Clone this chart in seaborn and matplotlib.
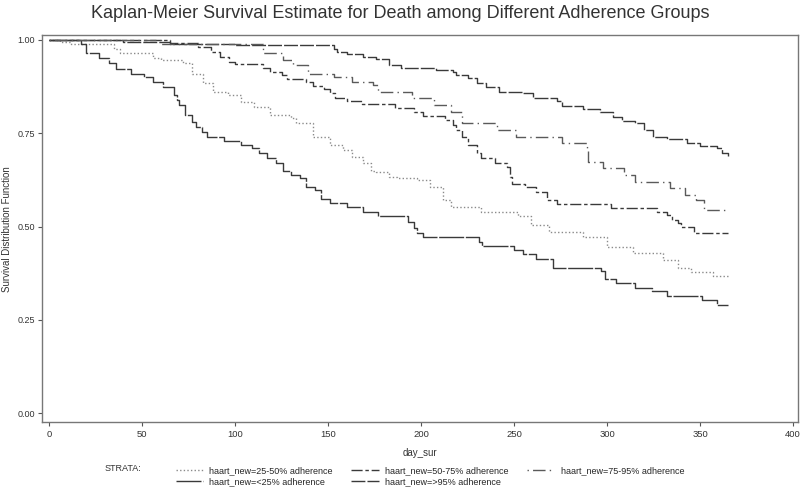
import numpy as np
import pandas as pd
import matplotlib
matplotlib.use("Agg")
import matplotlib.pyplot as plt
import seaborn as sns

# ── data (day, survival) ───────────────────────────────────────────────────
days_lt25 = [0, 17, 20, 27, 32, 36, 44, 51, 56, 61, 67, 69, 70, 73, 77, 79, 82, 85, 94, 103,
             109, 113, 117, 122, 126, 130, 135, 138, 143, 146, 151, 160, 169, 177, 193, 196,
             198, 201, 231, 233, 250, 255, 262, 271, 297, 299, 305, 315, 324, 332, 351, 359, 365]
surv_lt25 = [1.0, 0.99, 0.965, 0.952, 0.938, 0.922, 0.91, 0.90, 0.887, 0.874, 0.852, 0.84, 0.826,
             0.80, 0.78, 0.767, 0.753, 0.74, 0.73, 0.718, 0.71, 0.697, 0.684, 0.67, 0.65, 0.638,
             0.63, 0.606, 0.598, 0.574, 0.563, 0.552, 0.54, 0.528, 0.512, 0.495, 0.483, 0.472,
             0.458, 0.448, 0.437, 0.426, 0.413, 0.39, 0.38, 0.36, 0.348, 0.335, 0.327, 0.314,
             0.303, 0.29, 0.29]

days_25_50 = [0, 6, 12, 35, 38, 56, 60, 72, 77, 83, 88, 96, 103, 110, 119, 130, 133, 142, 151, 158,
              163, 169, 173, 176, 183, 187, 198, 205, 212, 216, 232, 252, 259, 269, 287, 300, 314,
              330, 338, 345, 357, 365]
surv_25_50 = [1.0, 0.995, 0.99, 0.975, 0.965, 0.952, 0.946, 0.938, 0.91, 0.884, 0.86, 0.852, 0.834,
              0.82, 0.80, 0.79, 0.777, 0.74, 0.718, 0.705, 0.687, 0.67, 0.65, 0.646, 0.633, 0.63,
              0.625, 0.606, 0.57, 0.553, 0.54, 0.528, 0.504, 0.486, 0.472, 0.445, 0.429, 0.41,
              0.39, 0.378, 0.367, 0.367]

days_50_75 = [0, 65, 80, 87, 92, 97, 100, 115, 119, 125, 128, 138, 142, 148, 151, 154, 160, 168, 186,
              196, 201, 213, 217, 219, 222, 225, 230, 232, 240, 246, 248, 249, 256, 262, 268, 273,
              302, 327, 332, 335, 338, 340, 347, 365]
surv_50_75 = [1.0, 0.992, 0.98, 0.968, 0.955, 0.94, 0.935, 0.925, 0.914, 0.906, 0.895, 0.887, 0.877,
              0.869, 0.857, 0.844, 0.837, 0.828, 0.818, 0.807, 0.796, 0.786, 0.772, 0.759, 0.74,
              0.718, 0.697, 0.684, 0.67, 0.66, 0.633, 0.614, 0.606, 0.592, 0.571, 0.56, 0.55,
              0.54, 0.53, 0.517, 0.509, 0.499, 0.483, 0.483]

days_75_95 = [0, 60, 115, 126, 131, 139, 153, 163, 174, 177, 195, 207, 216, 222, 241, 251, 276, 289,
              290, 298, 309, 315, 334, 342, 348, 352, 365]
surv_75_95 = [1.0, 0.99, 0.965, 0.946, 0.933, 0.91, 0.90, 0.887, 0.879, 0.86, 0.844, 0.826, 0.807,
              0.777, 0.759, 0.74, 0.724, 0.705, 0.673, 0.657, 0.638, 0.62, 0.603, 0.584, 0.571,
              0.545, 0.545]

days_gt95 = [0, 40, 65, 100, 153, 155, 160, 169, 176, 183, 189, 208, 217, 219, 225, 230, 235, 242,
             255, 260, 273, 276, 287, 296, 303, 308, 315, 320, 325, 332, 343, 350, 359, 362, 365]
surv_gt95 = [1.0, 0.995, 0.99, 0.987, 0.975, 0.968, 0.962, 0.955, 0.949, 0.933, 0.925, 0.92, 0.914,
             0.906, 0.898, 0.885, 0.874, 0.86, 0.857, 0.844, 0.837, 0.823, 0.815, 0.807, 0.794,
             0.783, 0.777, 0.759, 0.74, 0.734, 0.724, 0.716, 0.71, 0.697, 0.69]

labels = ["haart_new=25-50% adherence", "haart_new=<25% adherence",
          "haart_new=50-75% adherence", "haart_new=>95% adherence",
          "haart_new=75-95% adherence"]
series = [(days_25_50, surv_25_50), (days_lt25, surv_lt25), (days_50_75, surv_50_75),
          (days_gt95, surv_gt95), (days_75_95, surv_75_95)]

x_ticks = [0, 50, 100, 150, 200, 250, 300, 350, 400]
y_ticks = [0.0, 0.25, 0.5, 0.75, 1.0]

frames = []
for lab, (d, s) in zip(labels, series):
    frames.append(pd.DataFrame({"day_sur": d, "surv": s, "strata": lab}))
df = pd.concat(frames, ignore_index=True)

# ── styling ───────────────────────────────────────────────────────────────
sns.set_style("white")
plt.rcParams["font.family"] = ["Liberation Sans", "DejaVu Sans"]

STYLE = {
    "haart_new=25-50% adherence": dict(color="#8a8a8a", dashes=(1, 1.6)),
    "haart_new=<25% adherence":   dict(color="#3a3a3a", dashes=(18, 1.2)),
    "haart_new=50-75% adherence": dict(color="#3a3a3a", dashes=(8, 2, 2.5, 2)),
    "haart_new=>95% adherence":   dict(color="#3a3a3a", dashes=(10, 1.5)),
    "haart_new=75-95% adherence": dict(color="#5a5a5a", dashes=(1, 3, 9, 3)),
}

fig = plt.figure(figsize=(8, 4.88), dpi=100, facecolor="white")
ax = fig.add_axes([0.0525, 0.135, 0.945, 0.793])

for lab in labels:
    sub = df[df["strata"] == lab]
    st = STYLE[lab]
    sns.lineplot(data=sub, x="day_sur", y="surv", ax=ax, estimator=None, sort=False,
                 drawstyle="steps-post", color=st["color"], lw=1.0,
                 dashes=False, label=lab)
    ax.lines[-1].set_dashes(st["dashes"])

ax.set_xlim(-3.8, 402.7)
ax.set_ylim(-0.024, 1.013)
ax.set_xticks(x_ticks)
ax.set_xticklabels([str(v) for v in x_ticks], fontsize=6.8, color="#333333")
ax.set_yticks(y_ticks)
ax.set_yticklabels([f"{v:.2f}" for v in y_ticks], fontsize=6.5, color="#333333")
ax.tick_params(axis="both", length=3, width=0.8, color="#555555", pad=2,
               bottom=True, left=True)
ax.tick_params(axis="x", pad=3)
for sp in ax.spines.values():
    sp.set_color("#777777")
    sp.set_linewidth(1.0)

ax.set_xlabel("day_sur", fontsize=7, color="#333333", labelpad=6)
ax.set_ylabel("Survival Distribution Function", fontsize=7, color="#333333", labelpad=4)

fig.suptitle("Kaplan-Meier Survival Estimate for Death among Different Adherence Groups",
             fontsize=13, color="#333333", y=0.99)

leg = ax.legend(loc="upper left", bbox_to_anchor=(0.215, 0.053), bbox_transform=fig.transFigure,
                ncol=3, frameon=False, fontsize=6.5, handlelength=3.0, handletextpad=0.7,
                columnspacing=2.1, labelspacing=0.25, borderaxespad=0)
for h in leg.get_lines():
    h.set_linewidth(1.0)
fig.text(0.131, 0.039, "STRATA:", fontsize=6.5, color="#333333", va="center")

plt.savefig("out.png", dpi=100, facecolor="white")
